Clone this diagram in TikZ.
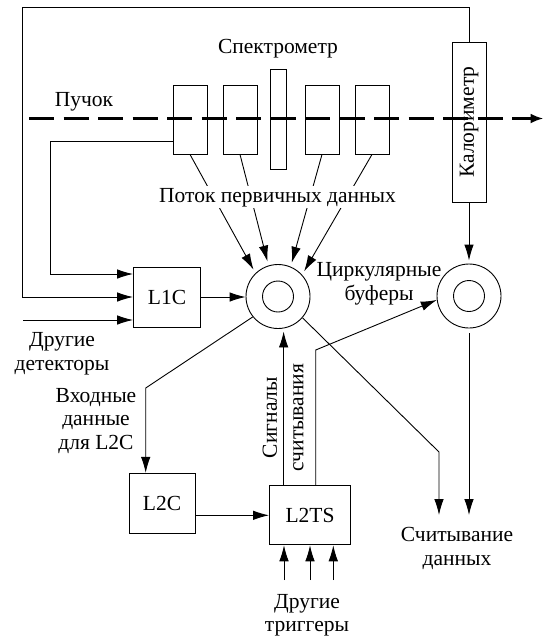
\documentclass[tikz,border=0pt]{standalone}
\usepackage{fontspec}
\setmainfont{Liberation Serif}
\usepackage{tikz}
\usetikzlibrary{arrows.meta, positioning}

\tikzset{
  thinline/.style={line width=0.9pt},
  arr/.style={thinline, -{Latex[length=16pt, width=9.5pt]}},
  box/.style={draw, thinline, inner sep=0pt},
  spbox/.style={box, minimum width=34pt, minimum height=69pt},
  ring/.style={circle, draw, thinline, inner sep=0pt, minimum size=64pt},
  hole/.style={circle, draw, thinline, inner sep=0pt, minimum size=31pt},
  lbl/.style={font=\rmfamily\fontsize{21.5}{23.5}\selectfont, align=center, inner sep=0pt},
  beam/.style={line width=2.6pt, dash pattern=on 25pt off 9.5pt,
               -{Latex[length=13pt, width=10pt]}}
}

\begin{document}
\begin{tikzpicture}[x=1pt, y=-1pt]
  \useasboundingbox[fill=white] (0,0) rectangle (544,638);

  % detectors on the beam line
  \node[spbox] (sp1) at (190,119.5) {};
  \node[spbox] (sp2) at (240,119.5) {};
  \node[box, minimum width=16pt, minimum height=100pt] (sp3) at (278,119) {};
  \node[spbox] (sp4) at (322,119.5) {};
  \node[spbox] (sp5) at (372,119.5) {};
  \node[box, minimum width=34pt, minimum height=160pt, lbl] (calo) at (469,122)
       {\rotatebox{90}{Калориметр}};

  \node[lbl, anchor=base] (spec) at (278,53) {Спектрометр};
  \node[lbl, anchor=base] (beamlbl) at (84,106) {Пучок};

  \coordinate (bstart) at (29,118.5);
  \coordinate (bend) at (543.5,118.5);
  \draw[beam] (bstart) -- (bend);

  % trigger boxes and buffers
  \node[box, lbl, minimum width=67pt, minimum height=60pt] (l1c) at (167,297) {L1C};
  \node[box, lbl, minimum width=66pt, minimum height=60pt] (l2c) at (162,503.3) {L2C};
  \node[box, lbl, minimum width=81pt, minimum height=59pt] (l2ts) at (310,515.3) {L2TS};
  \node[ring] (buf1) at (278,296.5) {};
  \node[hole] at (buf1) {};
  \node[ring] (buf2) at (469,296) {};
  \node[hole] at (buf2) {};

  % inputs of L1C
  \draw[arr] (calo.north) -- (calo.north |- 0,7.3) -| (22.7,297) -- (l1c.west);
  \draw[arr] (sp1.west |- 0,141) -| (50.7,274) -- (l1c.west |- 0,274);
  \coordinate (odet) at (23,320);
  \draw[arr] (odet) -- (l1c.west |- odet);
  \draw[arr] (l1c.east) -- (l1c.east -| buf1.west);

  % primary data flow
  \foreach \s/\a in {sp1/134, sp2/107, sp4/67, sp5/42}
    \draw[arr, shorten >=4pt] (\s.south) -- (buf1.\a);
  \node[lbl, anchor=base, fill=white, inner sep=1.5pt] (flux) at (277.5,202)
       {Поток первичных данных};
  \draw[arr, shorten >=3pt] (calo.south) -- (calo.south |- buf2.north);

  % level 2
  \coordinate (lbend) at (145.7,388);
  \draw[arr] (buf1.219) -- (lbend) -- (lbend |- l2c.north);
  \draw[arr] (l2c.east |- l2ts.west) -- (l2ts.west);
  \draw[arr, shorten >=3pt] (l2ts.north -| buf1.-80) -- (buf1.-80);
  \coordinate (sbend) at (315.7,350);
  \draw[arr] (sbend |- l2ts.north) -- (sbend) -- (buf2.187);
  \foreach \i/\x in {1/284, 2/310, 3/333.3} {
    \coordinate (trg\i) at (\x,580);
    \draw[arr] (trg\i) -- (trg\i |- l2ts.south);
  }

  % readout
  \coordinate (rbend) at (439,452);
  \coordinate (rout) at (439,515);
  \draw[arr] (buf1.-41) -- (rbend) -- (rout);
  \draw[arr, shorten <=5pt] (buf2.south) -- (buf2.south |- rout);

  \node[lbl] (bufl) at (379,284) {Циркулярные\\буферы};
  \node[lbl] (odetl) at (62,353.5) {Другие\\детекторы};
  \node[lbl] (inl2c) at (96,421) {Входные\\данные\\для L2C};
  \node[lbl, rotate=90] (sigl) at (283,417.5) {Сигналы\\[3pt]считывания};
  \node[lbl] (readl) at (457,548.5) {Считывание\\данных};
  \node[lbl] (otrig) at (307,615) {Другие\\триггеры};
\end{tikzpicture}
\end{document}
